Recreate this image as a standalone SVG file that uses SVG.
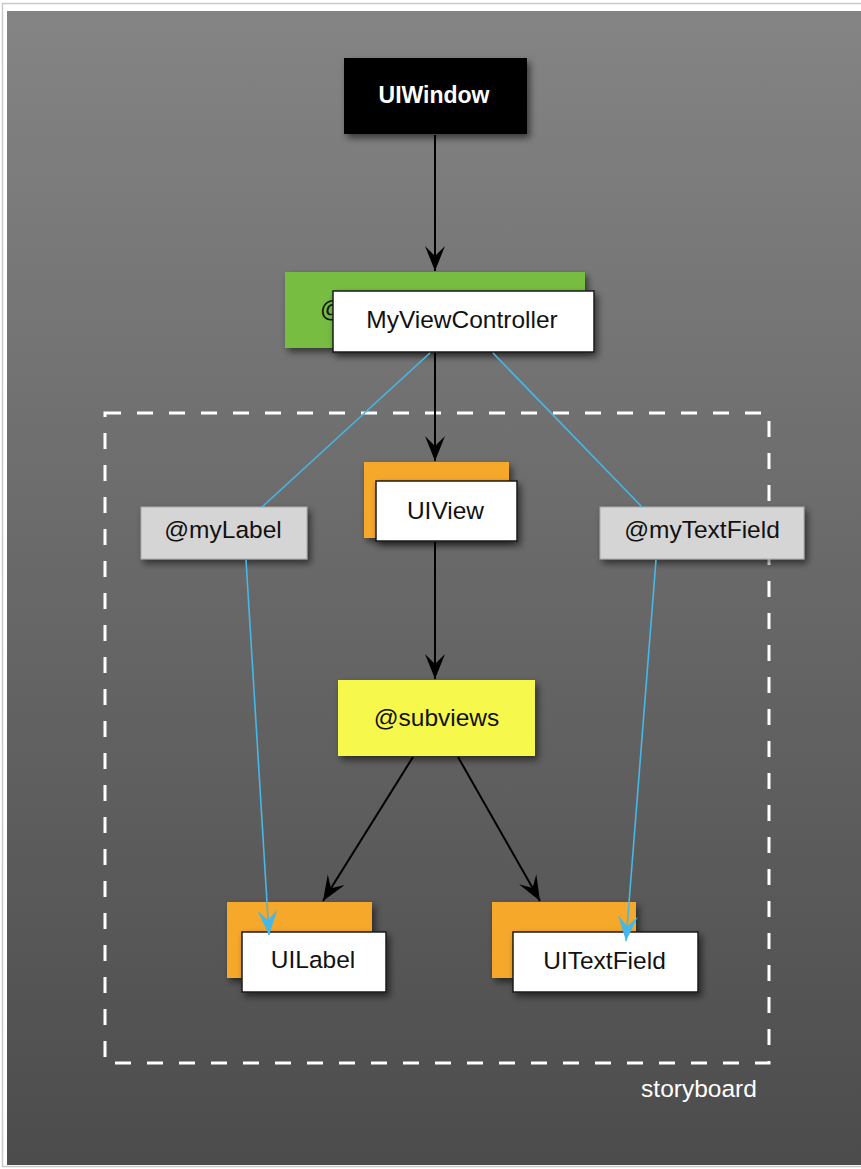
<svg xmlns="http://www.w3.org/2000/svg" width="861" height="1169" viewBox="0 0 861 1169">
<defs>
<linearGradient id="bg" x1="0" y1="0" x2="0" y2="1">
<stop offset="0" stop-color="#848484"/>
<stop offset="1" stop-color="#4c4c4c"/>
</linearGradient>
<filter id="sh" x="-20%" y="-20%" width="150%" height="160%">
<feDropShadow dx="3" dy="4" stdDeviation="3.5" flood-color="#000" flood-opacity="0.55"/>
</filter>
<marker id="ab" markerUnits="userSpaceOnUse" markerWidth="30" markerHeight="24" viewBox="-26 -12 28 24" refX="0" refY="0" orient="auto">
<path d="M0,0 L-25,-10 L-15,0 L-25,10 Z" fill="#000"/>
</marker>
<marker id="au" markerUnits="userSpaceOnUse" markerWidth="30" markerHeight="24" viewBox="-26 -12 28 24" refX="0" refY="0" orient="auto">
<path d="M0,0 L-25,-10 L-15,0 L-25,10 Z" fill="#45b8e8"/>
</marker>
</defs>
<style>
.t{font-family:"Liberation Sans",Arial,sans-serif;font-size:24.5px;text-anchor:middle;fill:#111}
.w{fill:#fff;stroke:#1a1a1a;stroke-width:1.5}
.o{fill:#f5a82a}
.k{stroke:#000;stroke-width:2;fill:none}
.b{stroke:#45b8e8;stroke-width:1.6;fill:none}
</style>
<rect x="0" y="0" width="861" height="1169" fill="#fff"/>
<rect x="2.5" y="3.5" width="870" height="1163" fill="none" stroke="#c9c9c9" stroke-width="1.5"/>
<rect x="7" y="11" width="860" height="1154" fill="url(#bg)"/>
<g id="storyboard">
<rect x="105" y="413" width="664" height="650" fill="none" stroke="#fff" stroke-width="3" stroke-dasharray="16 16"/>
<text x="699" y="1097" class="t" style="fill:#fff">storyboard</text>
</g>
<g id="uiwindow">
<rect x="344" y="58" width="183" height="76" fill="#000" filter="url(#sh)"/>
<text x="434" y="103" class="t" style="fill:#fff;font-weight:bold;font-size:23px">UIWindow</text>
</g>
<g id="myviewcontroller">
<rect x="285" y="272" width="300" height="76" fill="#76bd43" filter="url(#sh)"/>
<text x="320" y="317" class="t" style="text-anchor:start">@</text>
<rect x="333" y="291" width="261" height="61" class="w" filter="url(#sh)"/>
<text x="462" y="328" class="t">MyViewController</text>
</g>
<g id="uiview">
<rect x="364" y="462" width="145" height="76" class="o" filter="url(#sh)"/>
<rect x="376" y="481" width="141" height="60" class="w" filter="url(#sh)"/>
<text x="445.5" y="519" class="t">UIView</text>
</g>
<g id="mylabel">
<rect x="141" y="507" width="166" height="52" fill="#d5d5d5" stroke="#aaa" stroke-width="1" filter="url(#sh)"/>
<text x="223" y="538" class="t">@myLabel</text>
</g>
<g id="mytextfield">
<rect x="600" y="507" width="204" height="52" fill="#d5d5d5" stroke="#aaa" stroke-width="1" filter="url(#sh)"/>
<text x="702" y="538" class="t">@myTextField</text>
</g>
<g id="subviews">
<rect x="338" y="680" width="197" height="76" fill="#f6f84b" filter="url(#sh)"/>
<text x="436.5" y="726" class="t">@subviews</text>
</g>
<g id="uilabel">
<rect x="227" y="902" width="145" height="76" class="o" filter="url(#sh)"/>
<rect x="242" y="932" width="144" height="60" class="w" filter="url(#sh)"/>
<text x="313" y="968" class="t">UILabel</text>
</g>
<g id="uitextfield">
<rect x="492" y="902" width="144" height="76" class="o" filter="url(#sh)"/>
<rect x="513" y="932" width="185" height="60" class="w" filter="url(#sh)"/>
<text x="604.5" y="969" class="t">UITextField</text>
</g>
<g id="connectors">
<line x1="435" y1="135" x2="435" y2="271" class="k" marker-end="url(#ab)"/>
<line x1="435" y1="353" x2="435" y2="461" class="k" marker-end="url(#ab)"/>
<line x1="435" y1="542" x2="435" y2="679" class="k" marker-end="url(#ab)"/>
<line x1="413" y1="757" x2="323" y2="901" class="k" marker-end="url(#ab)"/>
<line x1="458" y1="757" x2="540" y2="901" class="k" marker-end="url(#ab)"/>
<line x1="430" y1="353" x2="262" y2="507" class="b"/>
<line x1="493" y1="353" x2="642" y2="507" class="b"/>
<line x1="246" y1="560" x2="269" y2="935" class="b" marker-end="url(#au)"/>
<line x1="656" y1="560" x2="626" y2="941" class="b" marker-end="url(#au)"/>
</g>
</svg>
